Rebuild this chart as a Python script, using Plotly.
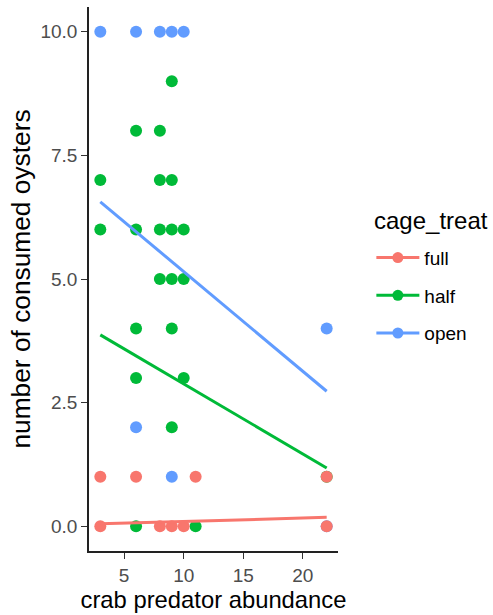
import plotly.graph_objects as go

# ---- data ----
groups = ["full", "half", "open"]
colors = {"full": "#F8766D", "half": "#00BA38", "open": "#619CFF"}

full_x = [3, 3, 6, 11, 8, 9, 10, 22, 22]
full_y = [1, 0, 1, 1, 0, 0, 0, 1, 0]

half_x = [9, 6, 8, 3, 8, 9, 3, 6, 8, 9, 10, 8, 9, 10, 6, 9, 6, 10, 9, 6, 11, 22]
half_y = [9, 8, 8, 7, 7, 7, 6, 6, 6, 6, 6, 5, 5, 5, 4, 4, 3, 3, 2, 0, 0, 1]

open_x = [3, 6, 8, 9, 10, 6, 9, 22, 22]
open_y = [10, 10, 10, 10, 10, 2, 1, 4, 0]

# fitted (lm) line end values
fit_x = [3, 22]
fit_full = [0.05, 0.18]
fit_half = [3.87, 1.18]
fit_open = [6.56, 2.73]

x_ticks = [5, 10, 15, 20]
y_ticks = [0.0, 2.5, 5.0, 7.5, 10.0]

pts = {"full": (full_x, full_y), "half": (half_x, half_y), "open": (open_x, open_y)}
fits = {"full": fit_full, "half": fit_half, "open": fit_open}

FONT = "Liberation Sans, Arial, Helvetica, sans-serif"

fig = go.Figure()

# legend-only traces
for g in groups:
    fig.add_trace(go.Scatter(
        x=[None], y=[None], mode="lines+markers", name=g, legendgroup=g,
        line=dict(color=colors[g], width=3),
        marker=dict(color=colors[g], size=11),
        showlegend=True,
    ))

# points (draw order half, open, full so red sits on top at x=22)
for g in ["half", "open", "full"]:
    xs, ys = pts[g]
    fig.add_trace(go.Scatter(
        x=xs, y=ys, mode="markers", legendgroup=g, showlegend=False,
        marker=dict(color=colors[g], size=12, line=dict(width=0)),
        hoverinfo="x+y",
    ))

# regression lines on top
for g in groups:
    fig.add_trace(go.Scatter(
        x=fit_x, y=fits[g], mode="lines", legendgroup=g, showlegend=False,
        line=dict(color=colors[g], width=3),
    ))

fig.update_layout(
    width=493, height=615,
    margin=dict(l=89, r=155, t=7, b=64),
    plot_bgcolor="white", paper_bgcolor="white",
    font=dict(family=FONT, color="black"),
    legend=dict(
        x=1.134, xanchor="left", y=0.574, yanchor="top",
        font=dict(size=19, color="black"),
        tracegroupgap=10, itemwidth=43,
        bgcolor="rgba(0,0,0,0)",
    ),
    annotations=[dict(
        text="cage_treat", xref="paper", yref="paper",
        x=1.138, y=0.608, xanchor="left", yanchor="middle",
        showarrow=False, font=dict(size=24, color="black", family=FONT),
    )],
)

fig.update_xaxes(
    range=[2.05, 22.95], tickvals=x_ticks, ticktext=[str(v) for v in x_ticks],
    showgrid=False, zeroline=False,
    showline=True, linecolor="#222222", linewidth=1.5,
    ticks="outside", ticklen=6, tickcolor="#333333", tickwidth=1.2,
    tickfont=dict(size=19, color="#4D4D4D"),
    title=dict(text="crab predator abundance", font=dict(size=23.8, color="black"), standoff=5),
)
fig.update_yaxes(
    range=[-0.5, 10.5], tickvals=y_ticks, ticktext=[f"{v:.1f}" for v in y_ticks],
    showgrid=False, zeroline=False,
    showline=True, linecolor="#222222", linewidth=1.5,
    ticks="outside", ticklen=6, tickcolor="#333333", tickwidth=1.2,
    tickfont=dict(size=19, color="#4D4D4D"),
    title=dict(text="number of consumed oysters", font=dict(size=26.3, color="black"), standoff=2),
)

fig.write_html("out.html")
